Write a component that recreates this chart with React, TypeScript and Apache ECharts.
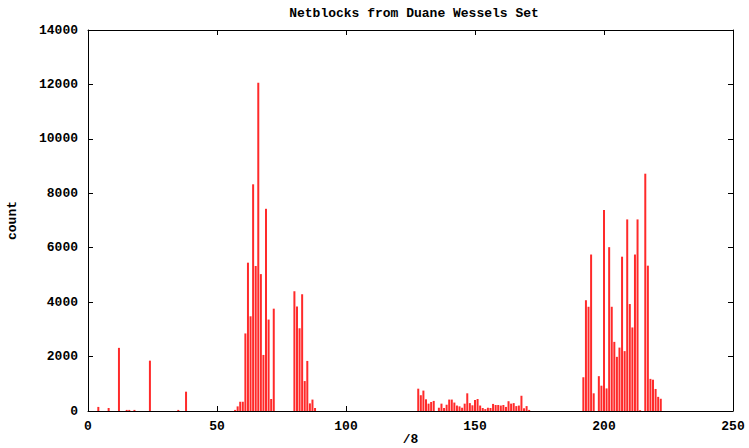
import React, { useEffect, useRef } from "react";
import * as echarts from "echarts";

const titleText = "Netblocks from Duane Wessels Set";
const xName = "/8";
const yName = "count";

const netblocks = [
  4, 8, 12, 15, 16, 18, 24, 35, 38,
  57, 58, 59, 60, 61, 62, 63, 64, 65, 66, 67, 68, 69, 70, 71, 72,
  80, 81, 82, 83, 84, 85, 86, 87, 88,
  128, 129, 130, 131, 132, 133, 134, 136, 137, 138, 139, 140, 141, 142, 143, 144,
  145, 146, 147, 148, 149, 150, 151, 152, 153, 154, 155, 156, 157, 158, 159, 160,
  161, 162, 163, 164, 165, 166, 167, 168, 169, 170, 171,
  192, 193, 194, 195, 196, 198, 199, 200, 201, 202, 203, 204, 205, 206, 207, 208,
  209, 210, 211, 212, 213, 214, 216, 217, 218, 219, 220, 221, 222,
];

const counts = [
  150, 110, 2320, 40, 40, 40, 1850, 40, 710,
  40, 170, 340, 340, 2850, 5450, 3480, 8330, 5330, 12060, 5030, 2060, 7430, 3360, 440, 3760,
  4400, 3840, 3040, 4290, 1100, 1840, 280, 420, 110,
  820, 580, 750, 430, 270, 330, 370, 120, 270, 110, 230, 420, 420, 310, 200, 170,
  120, 270, 650, 290, 210, 400, 440, 200, 110, 70, 120, 110, 260, 220, 220, 200,
  220, 150, 360, 270, 290, 180, 200, 560, 100, 180, 40,
  1240, 4070, 3830, 5750, 650, 1280, 930, 7390, 830, 6020, 3830, 2540, 1990, 2330, 5670, 2200,
  7040, 3930, 3070, 5750, 7040, 30, 8720, 5340, 1180, 1150, 810, 520, 450,
];

const FONT = "Liberation Mono";

export default function App() {
  const ref = useRef<HTMLDivElement>(null);

  useEffect(() => {
    if (!ref.current) return;
    const chart = echarts.init(ref.current, null, { renderer: "svg" });
    const textStyle = {
      fontFamily: FONT,
      fontWeight: "bold" as const,
      fontSize: 13,
      color: "#000",
    };
    const line = { show: true, onZero: false, lineStyle: { color: "#000", width: 1 } };
    const tick = { show: true, inside: true, length: 5, lineStyle: { color: "#000", width: 1 } };
    const data = netblocks.map((x, i) => [x, counts[i]]);
    const plain = (v: number) => String(v);

    chart.setOption({
      animation: false,
      backgroundColor: "#fff",
      title: {
        text: titleText,
        left: 409,
        textAlign: "center",
        top: 2,
        textStyle: { ...textStyle },
      },
      grid: {
        left: 88,
        right: 16,
        top: 30,
        bottom: 37,
        containLabel: false,
        outerBoundsMode: "none",
      },
      xAxis: [
        {
          type: "value",
          position: "bottom",
          min: 0,
          max: 250,
          interval: 50,
          axisLine: line,
          axisTick: tick,
          splitLine: { show: false },
          axisLabel: { ...textStyle, margin: 9, formatter: plain },
          name: xName,
          nameLocation: "middle",
          nameGap: 22,
          nameMoveOverlap: false,
          nameTextStyle: { ...textStyle },
        },
        {
          type: "value",
          position: "top",
          min: 0,
          max: 250,
          interval: 50,
          axisLine: line,
          axisTick: tick,
          splitLine: { show: false },
          axisLabel: { show: false },
        },
      ],
      yAxis: [
        {
          type: "value",
          position: "left",
          min: 0,
          max: 14000,
          interval: 2000,
          axisLine: line,
          axisTick: tick,
          splitLine: { show: false },
          axisLabel: { ...textStyle, margin: 10, formatter: plain },
          name: yName,
          nameLocation: "middle",
          nameGap: 69,
          nameTextStyle: { ...textStyle },
        },
        {
          type: "value",
          position: "right",
          min: 0,
          max: 14000,
          interval: 2000,
          axisLine: line,
          axisTick: tick,
          splitLine: { show: false },
          axisLabel: { show: false },
        },
      ],
      series: [
        {
          type: "bar",
          xAxisIndex: 0,
          yAxisIndex: 0,
          data,
          barWidth: 2,
          itemStyle: { color: "#ff2a2a" },
        },
      ],
    });
    return () => chart.dispose();
  }, []);

  return (
    <div
      ref={ref}
      style={{ position: "fixed", left: 0, top: 0, width: 749, height: 448, background: "#fff" }}
    />
  );
}
